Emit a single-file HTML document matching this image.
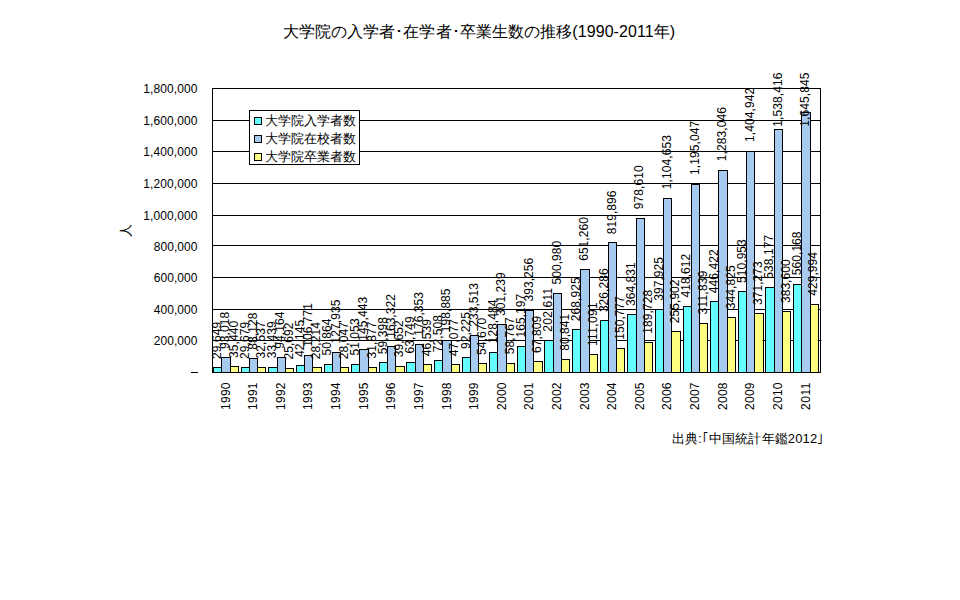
<!DOCTYPE html>
<html><head><meta charset="utf-8">
<style>
html,body{margin:0;padding:0;background:#fff;}
body{width:960px;height:600px;overflow:hidden;position:relative;font-family:"Liberation Sans",sans-serif;}
svg{position:absolute;left:0;top:0;}
svg text{font-family:"Liberation Sans",sans-serif;font-size:12px;fill:#000;}
.title{position:absolute;left:0;width:960px;top:22px;text-align:center;font-size:16px;letter-spacing:0.08px;line-height:20px;white-space:nowrap;}
.title span{position:relative;left:-1px;}
.legend{position:absolute;left:249px;top:110px;width:109px;height:53px;border:1px solid #000;background:#fff;font-size:13px;}
.legend div{position:absolute;left:4px;height:18px;line-height:18px;white-space:nowrap;}
.legend i{display:inline-block;width:6px;height:6px;border:1px solid #000;margin-right:3px;vertical-align:middle;position:relative;top:-1px;}
.ytitle{position:absolute;left:118px;top:222px;width:16px;height:16px;font-size:13px;line-height:16px;text-align:center;transform:rotate(-90deg);}
.src{position:absolute;right:135.5px;top:431px;font-size:13px;letter-spacing:0.15px;line-height:16px;white-space:nowrap;}
</style></head><body>
<svg width="960" height="600" viewBox="0 0 960 600">
<rect x="212" y="88" width="609" height="1" fill="#000"/>
<rect x="212" y="120" width="609" height="1" fill="#000"/>
<rect x="212" y="151" width="609" height="1" fill="#000"/>
<rect x="212" y="183" width="609" height="1" fill="#000"/>
<rect x="212" y="215" width="609" height="1" fill="#000"/>
<rect x="212" y="245" width="609" height="1" fill="#000"/>
<rect x="212" y="277" width="609" height="1" fill="#000"/>
<rect x="212" y="309" width="609" height="1" fill="#000"/>
<rect x="212" y="340" width="609" height="1" fill="#000"/>
<rect x="212" y="372" width="609" height="1" fill="#000"/>
<rect x="212" y="88" width="1" height="285" fill="#000"/>
<rect x="820" y="88" width="1" height="285" fill="#000"/>
<rect x="213" y="367" width="9" height="6" fill="#000"/>
<rect x="214" y="368" width="7" height="4" fill="#66FFFF"/>
<rect x="221" y="357" width="10" height="16" fill="#000"/>
<rect x="222" y="358" width="8" height="14" fill="#A6CAF0"/>
<rect x="230" y="366" width="9" height="7" fill="#000"/>
<rect x="231" y="367" width="7" height="5" fill="#FFFF80"/>
<rect x="241" y="367" width="9" height="6" fill="#000"/>
<rect x="242" y="368" width="7" height="4" fill="#66FFFF"/>
<rect x="249" y="358" width="9" height="15" fill="#000"/>
<rect x="250" y="359" width="7" height="13" fill="#A6CAF0"/>
<rect x="257" y="367" width="9" height="6" fill="#000"/>
<rect x="258" y="368" width="7" height="4" fill="#FFFF80"/>
<rect x="268" y="367" width="10" height="6" fill="#000"/>
<rect x="269" y="368" width="8" height="4" fill="#66FFFF"/>
<rect x="277" y="357" width="9" height="16" fill="#000"/>
<rect x="278" y="358" width="7" height="14" fill="#A6CAF0"/>
<rect x="285" y="368" width="9" height="5" fill="#000"/>
<rect x="286" y="369" width="7" height="3" fill="#FFFF80"/>
<rect x="296" y="365" width="9" height="8" fill="#000"/>
<rect x="297" y="366" width="7" height="6" fill="#66FFFF"/>
<rect x="304" y="355" width="9" height="18" fill="#000"/>
<rect x="305" y="356" width="7" height="16" fill="#A6CAF0"/>
<rect x="312" y="367" width="10" height="6" fill="#000"/>
<rect x="313" y="368" width="8" height="4" fill="#FFFF80"/>
<rect x="324" y="364" width="9" height="9" fill="#000"/>
<rect x="325" y="365" width="7" height="7" fill="#66FFFF"/>
<rect x="332" y="352" width="9" height="21" fill="#000"/>
<rect x="333" y="353" width="7" height="19" fill="#A6CAF0"/>
<rect x="340" y="367" width="9" height="6" fill="#000"/>
<rect x="341" y="368" width="7" height="4" fill="#FFFF80"/>
<rect x="351" y="364" width="9" height="9" fill="#000"/>
<rect x="352" y="365" width="7" height="7" fill="#66FFFF"/>
<rect x="359" y="349" width="10" height="24" fill="#000"/>
<rect x="360" y="350" width="8" height="22" fill="#A6CAF0"/>
<rect x="368" y="367" width="9" height="6" fill="#000"/>
<rect x="369" y="368" width="7" height="4" fill="#FFFF80"/>
<rect x="379" y="362" width="9" height="11" fill="#000"/>
<rect x="380" y="363" width="7" height="9" fill="#66FFFF"/>
<rect x="387" y="346" width="9" height="27" fill="#000"/>
<rect x="388" y="347" width="7" height="25" fill="#A6CAF0"/>
<rect x="395" y="366" width="10" height="7" fill="#000"/>
<rect x="396" y="367" width="8" height="5" fill="#FFFF80"/>
<rect x="406" y="362" width="10" height="11" fill="#000"/>
<rect x="407" y="363" width="8" height="9" fill="#66FFFF"/>
<rect x="415" y="344" width="9" height="29" fill="#000"/>
<rect x="416" y="345" width="7" height="27" fill="#A6CAF0"/>
<rect x="423" y="364" width="9" height="9" fill="#000"/>
<rect x="424" y="365" width="7" height="7" fill="#FFFF80"/>
<rect x="434" y="360" width="9" height="13" fill="#000"/>
<rect x="435" y="361" width="7" height="11" fill="#66FFFF"/>
<rect x="442" y="340" width="10" height="33" fill="#000"/>
<rect x="443" y="341" width="8" height="31" fill="#A6CAF0"/>
<rect x="451" y="364" width="9" height="9" fill="#000"/>
<rect x="452" y="365" width="7" height="7" fill="#FFFF80"/>
<rect x="462" y="357" width="9" height="16" fill="#000"/>
<rect x="463" y="358" width="7" height="14" fill="#66FFFF"/>
<rect x="470" y="335" width="9" height="38" fill="#000"/>
<rect x="471" y="336" width="7" height="36" fill="#A6CAF0"/>
<rect x="478" y="363" width="9" height="10" fill="#000"/>
<rect x="479" y="364" width="7" height="8" fill="#FFFF80"/>
<rect x="489" y="352" width="9" height="21" fill="#000"/>
<rect x="490" y="353" width="7" height="19" fill="#66FFFF"/>
<rect x="497" y="324" width="10" height="49" fill="#000"/>
<rect x="498" y="325" width="8" height="47" fill="#A6CAF0"/>
<rect x="506" y="363" width="9" height="10" fill="#000"/>
<rect x="507" y="364" width="7" height="8" fill="#FFFF80"/>
<rect x="517" y="346" width="9" height="27" fill="#000"/>
<rect x="518" y="347" width="7" height="25" fill="#66FFFF"/>
<rect x="525" y="310" width="9" height="63" fill="#000"/>
<rect x="526" y="311" width="7" height="61" fill="#A6CAF0"/>
<rect x="533" y="361" width="10" height="12" fill="#000"/>
<rect x="534" y="362" width="8" height="10" fill="#FFFF80"/>
<rect x="544" y="340" width="10" height="33" fill="#000"/>
<rect x="545" y="341" width="8" height="31" fill="#66FFFF"/>
<rect x="553" y="293" width="9" height="80" fill="#000"/>
<rect x="554" y="294" width="7" height="78" fill="#A6CAF0"/>
<rect x="561" y="359" width="9" height="14" fill="#000"/>
<rect x="562" y="360" width="7" height="12" fill="#FFFF80"/>
<rect x="572" y="329" width="9" height="44" fill="#000"/>
<rect x="573" y="330" width="7" height="42" fill="#66FFFF"/>
<rect x="580" y="269" width="10" height="104" fill="#000"/>
<rect x="581" y="270" width="8" height="102" fill="#A6CAF0"/>
<rect x="589" y="354" width="9" height="19" fill="#000"/>
<rect x="590" y="355" width="7" height="17" fill="#FFFF80"/>
<rect x="600" y="320" width="9" height="53" fill="#000"/>
<rect x="601" y="321" width="7" height="51" fill="#66FFFF"/>
<rect x="608" y="242" width="9" height="131" fill="#000"/>
<rect x="609" y="243" width="7" height="129" fill="#A6CAF0"/>
<rect x="616" y="348" width="9" height="25" fill="#000"/>
<rect x="617" y="349" width="7" height="23" fill="#FFFF80"/>
<rect x="627" y="314" width="10" height="59" fill="#000"/>
<rect x="628" y="315" width="8" height="57" fill="#66FFFF"/>
<rect x="636" y="218" width="9" height="155" fill="#000"/>
<rect x="637" y="219" width="7" height="153" fill="#A6CAF0"/>
<rect x="644" y="342" width="9" height="31" fill="#000"/>
<rect x="645" y="343" width="7" height="29" fill="#FFFF80"/>
<rect x="655" y="309" width="9" height="64" fill="#000"/>
<rect x="656" y="310" width="7" height="62" fill="#66FFFF"/>
<rect x="663" y="198" width="9" height="175" fill="#000"/>
<rect x="664" y="199" width="7" height="173" fill="#A6CAF0"/>
<rect x="671" y="331" width="10" height="42" fill="#000"/>
<rect x="672" y="332" width="8" height="40" fill="#FFFF80"/>
<rect x="683" y="306" width="9" height="67" fill="#000"/>
<rect x="684" y="307" width="7" height="65" fill="#66FFFF"/>
<rect x="691" y="184" width="9" height="189" fill="#000"/>
<rect x="692" y="185" width="7" height="187" fill="#A6CAF0"/>
<rect x="699" y="323" width="9" height="50" fill="#000"/>
<rect x="700" y="324" width="7" height="48" fill="#FFFF80"/>
<rect x="710" y="301" width="9" height="72" fill="#000"/>
<rect x="711" y="302" width="7" height="70" fill="#66FFFF"/>
<rect x="718" y="170" width="10" height="203" fill="#000"/>
<rect x="719" y="171" width="8" height="201" fill="#A6CAF0"/>
<rect x="727" y="317" width="9" height="56" fill="#000"/>
<rect x="728" y="318" width="7" height="54" fill="#FFFF80"/>
<rect x="738" y="291" width="9" height="82" fill="#000"/>
<rect x="739" y="292" width="7" height="80" fill="#66FFFF"/>
<rect x="746" y="151" width="9" height="222" fill="#000"/>
<rect x="747" y="152" width="7" height="220" fill="#A6CAF0"/>
<rect x="754" y="313" width="10" height="60" fill="#000"/>
<rect x="755" y="314" width="8" height="58" fill="#FFFF80"/>
<rect x="765" y="287" width="10" height="86" fill="#000"/>
<rect x="766" y="288" width="8" height="84" fill="#66FFFF"/>
<rect x="774" y="129" width="9" height="244" fill="#000"/>
<rect x="775" y="130" width="7" height="242" fill="#A6CAF0"/>
<rect x="782" y="311" width="9" height="62" fill="#000"/>
<rect x="783" y="312" width="7" height="60" fill="#FFFF80"/>
<rect x="793" y="284" width="9" height="89" fill="#000"/>
<rect x="794" y="285" width="7" height="87" fill="#66FFFF"/>
<rect x="801" y="112" width="10" height="261" fill="#000"/>
<rect x="802" y="113" width="8" height="259" fill="#A6CAF0"/>
<rect x="810" y="304" width="9" height="69" fill="#000"/>
<rect x="811" y="305" width="7" height="67" fill="#FFFF80"/>
<text transform="translate(220.98,358.92) rotate(-90)" textLength="37.11" lengthAdjust="spacing">29,649</text>
<text transform="translate(229.24,348.92) rotate(-90)" textLength="37.11" lengthAdjust="spacing">93,018</text>
<text transform="translate(237.50,358.01) rotate(-90)" textLength="37.11" lengthAdjust="spacing">35,440</text>
<text transform="translate(248.60,358.92) rotate(-90)" textLength="37.11" lengthAdjust="spacing">29,679</text>
<text transform="translate(256.86,349.70) rotate(-90)" textLength="37.11" lengthAdjust="spacing">88,128</text>
<text transform="translate(265.12,358.47) rotate(-90)" textLength="37.11" lengthAdjust="spacing">32,537</text>
<text transform="translate(276.21,358.32) rotate(-90)" textLength="37.11" lengthAdjust="spacing">33,439</text>
<text transform="translate(284.47,348.74) rotate(-90)" textLength="37.11" lengthAdjust="spacing">94,164</text>
<text transform="translate(292.73,359.55) rotate(-90)" textLength="37.11" lengthAdjust="spacing">25,692</text>
<text transform="translate(303.83,356.95) rotate(-90)" textLength="37.11" lengthAdjust="spacing">42,145</text>
<text transform="translate(312.09,346.75) rotate(-90)" textLength="43.78" lengthAdjust="spacing">106,771</text>
<text transform="translate(320.35,359.15) rotate(-90)" textLength="37.11" lengthAdjust="spacing">28,214</text>
<text transform="translate(331.45,355.57) rotate(-90)" textLength="37.11" lengthAdjust="spacing">50,864</text>
<text transform="translate(339.71,343.41) rotate(-90)" textLength="43.78" lengthAdjust="spacing">127,935</text>
<text transform="translate(347.97,359.17) rotate(-90)" textLength="37.11" lengthAdjust="spacing">28,047</text>
<text transform="translate(359.07,355.54) rotate(-90)" textLength="37.11" lengthAdjust="spacing">51,053</text>
<text transform="translate(367.33,340.65) rotate(-90)" textLength="43.78" lengthAdjust="spacing">145,443</text>
<text transform="translate(375.59,358.57) rotate(-90)" textLength="37.11" lengthAdjust="spacing">31,877</text>
<text transform="translate(386.68,354.23) rotate(-90)" textLength="37.11" lengthAdjust="spacing">59,398</text>
<text transform="translate(394.94,337.83) rotate(-90)" textLength="43.78" lengthAdjust="spacing">163,322</text>
<text transform="translate(403.20,357.34) rotate(-90)" textLength="37.11" lengthAdjust="spacing">39,652</text>
<text transform="translate(414.30,353.54) rotate(-90)" textLength="37.11" lengthAdjust="spacing">63,749</text>
<text transform="translate(422.56,335.78) rotate(-90)" textLength="43.78" lengthAdjust="spacing">176,353</text>
<text transform="translate(430.82,356.26) rotate(-90)" textLength="37.11" lengthAdjust="spacing">46,539</text>
<text transform="translate(441.92,352.16) rotate(-90)" textLength="37.11" lengthAdjust="spacing">72,508</text>
<text transform="translate(450.18,332.22) rotate(-90)" textLength="43.78" lengthAdjust="spacing">198,885</text>
<text transform="translate(458.44,356.17) rotate(-90)" textLength="37.11" lengthAdjust="spacing">47,077</text>
<text transform="translate(469.53,349.05) rotate(-90)" textLength="37.11" lengthAdjust="spacing">92,225</text>
<text transform="translate(477.79,326.76) rotate(-90)" textLength="43.78" lengthAdjust="spacing">233,513</text>
<text transform="translate(486.05,354.97) rotate(-90)" textLength="37.11" lengthAdjust="spacing">54,670</text>
<text transform="translate(497.15,343.33) rotate(-90)" textLength="43.78" lengthAdjust="spacing">128,484</text>
<text transform="translate(505.41,316.07) rotate(-90)" textLength="43.78" lengthAdjust="spacing">301,239</text>
<text transform="translate(513.67,354.33) rotate(-90)" textLength="37.11" lengthAdjust="spacing">58,767</text>
<text transform="translate(524.77,337.54) rotate(-90)" textLength="43.78" lengthAdjust="spacing">165,197</text>
<text transform="translate(533.03,301.55) rotate(-90)" textLength="43.78" lengthAdjust="spacing">393,256</text>
<text transform="translate(541.29,352.90) rotate(-90)" textLength="37.11" lengthAdjust="spacing">67,809</text>
<text transform="translate(552.38,331.63) rotate(-90)" textLength="43.78" lengthAdjust="spacing">202,611</text>
<text transform="translate(560.64,284.56) rotate(-90)" textLength="43.78" lengthAdjust="spacing">500,980</text>
<text transform="translate(568.90,350.85) rotate(-90)" textLength="37.11" lengthAdjust="spacing">80,841</text>
<text transform="translate(580.00,321.17) rotate(-90)" textLength="43.78" lengthAdjust="spacing">268,925</text>
<text transform="translate(588.26,260.85) rotate(-90)" textLength="43.78" lengthAdjust="spacing">651,260</text>
<text transform="translate(596.52,346.07) rotate(-90)" textLength="43.78" lengthAdjust="spacing">111,091</text>
<text transform="translate(607.62,312.12) rotate(-90)" textLength="43.78" lengthAdjust="spacing">326,286</text>
<text transform="translate(615.88,234.24) rotate(-90)" textLength="43.78" lengthAdjust="spacing">819,896</text>
<text transform="translate(624.14,339.81) rotate(-90)" textLength="43.78" lengthAdjust="spacing">150,777</text>
<text transform="translate(635.23,306.04) rotate(-90)" textLength="43.78" lengthAdjust="spacing">364,831</text>
<text transform="translate(643.49,209.20) rotate(-90)" textLength="43.78" lengthAdjust="spacing">978,610</text>
<text transform="translate(651.75,333.67) rotate(-90)" textLength="43.78" lengthAdjust="spacing">189,728</text>
<text transform="translate(662.85,300.82) rotate(-90)" textLength="43.78" lengthAdjust="spacing">397,925</text>
<text transform="translate(671.11,189.31) rotate(-90)" textLength="54.20" lengthAdjust="spacing">1,104,653</text>
<text transform="translate(679.37,323.22) rotate(-90)" textLength="43.78" lengthAdjust="spacing">255,902</text>
<text transform="translate(690.47,297.55) rotate(-90)" textLength="43.78" lengthAdjust="spacing">418,612</text>
<text transform="translate(698.73,175.05) rotate(-90)" textLength="54.20" lengthAdjust="spacing">1,195,047</text>
<text transform="translate(706.99,314.40) rotate(-90)" textLength="43.78" lengthAdjust="spacing">311,839</text>
<text transform="translate(718.09,293.16) rotate(-90)" textLength="43.78" lengthAdjust="spacing">446,422</text>
<text transform="translate(726.35,161.16) rotate(-90)" textLength="54.20" lengthAdjust="spacing">1,283,046</text>
<text transform="translate(734.61,309.19) rotate(-90)" textLength="43.78" lengthAdjust="spacing">344,825</text>
<text transform="translate(745.70,282.98) rotate(-90)" textLength="43.78" lengthAdjust="spacing">510,953</text>
<text transform="translate(753.96,141.93) rotate(-90)" textLength="54.20" lengthAdjust="spacing">1,404,942</text>
<text transform="translate(762.22,305.02) rotate(-90)" textLength="43.78" lengthAdjust="spacing">371,273</text>
<text transform="translate(773.32,278.69) rotate(-90)" textLength="43.78" lengthAdjust="spacing">538,177</text>
<text transform="translate(781.58,126.70) rotate(-90)" textLength="54.20" lengthAdjust="spacing">1,538,416</text>
<text transform="translate(789.84,303.08) rotate(-90)" textLength="43.78" lengthAdjust="spacing">383,600</text>
<text transform="translate(800.94,275.22) rotate(-90)" textLength="43.78" lengthAdjust="spacing">560,168</text>
<text transform="translate(809.20,126.70) rotate(-90)" textLength="54.20" lengthAdjust="spacing">1,645,845</text>
<text transform="translate(817.46,295.76) rotate(-90)" textLength="43.78" lengthAdjust="spacing">429,994</text>
<text x="197.5" y="92.5" text-anchor="end" textLength="54.20" lengthAdjust="spacing">1,800,000</text>
<text x="197.5" y="124.5" text-anchor="end" textLength="54.20" lengthAdjust="spacing">1,600,000</text>
<text x="197.5" y="155.5" text-anchor="end" textLength="54.20" lengthAdjust="spacing">1,400,000</text>
<text x="197.5" y="187.5" text-anchor="end" textLength="54.20" lengthAdjust="spacing">1,200,000</text>
<text x="197.5" y="219.5" text-anchor="end" textLength="54.20" lengthAdjust="spacing">1,000,000</text>
<text x="197.5" y="250.5" text-anchor="end" textLength="43.78" lengthAdjust="spacing">800,000</text>
<text x="197.5" y="281.5" text-anchor="end" textLength="43.78" lengthAdjust="spacing">600,000</text>
<text x="197.5" y="313.5" text-anchor="end" textLength="43.78" lengthAdjust="spacing">400,000</text>
<text x="197.5" y="344.5" text-anchor="end" textLength="43.78" lengthAdjust="spacing">200,000</text>
<rect x="191" y="372" width="7" height="1" fill="#000"/>
<text transform="translate(229.61,382.5) rotate(-90)" text-anchor="end" textLength="27.4" lengthAdjust="spacing">1990</text>
<text transform="translate(257.23,382.5) rotate(-90)" text-anchor="end" textLength="27.4" lengthAdjust="spacing">1991</text>
<text transform="translate(284.84,382.5) rotate(-90)" text-anchor="end" textLength="27.4" lengthAdjust="spacing">1992</text>
<text transform="translate(312.46,382.5) rotate(-90)" text-anchor="end" textLength="27.4" lengthAdjust="spacing">1993</text>
<text transform="translate(340.08,382.5) rotate(-90)" text-anchor="end" textLength="27.4" lengthAdjust="spacing">1994</text>
<text transform="translate(367.69,382.5) rotate(-90)" text-anchor="end" textLength="27.4" lengthAdjust="spacing">1995</text>
<text transform="translate(395.31,382.5) rotate(-90)" text-anchor="end" textLength="27.4" lengthAdjust="spacing">1996</text>
<text transform="translate(422.93,382.5) rotate(-90)" text-anchor="end" textLength="27.4" lengthAdjust="spacing">1997</text>
<text transform="translate(450.54,382.5) rotate(-90)" text-anchor="end" textLength="27.4" lengthAdjust="spacing">1998</text>
<text transform="translate(478.16,382.5) rotate(-90)" text-anchor="end" textLength="27.4" lengthAdjust="spacing">1999</text>
<text transform="translate(505.78,382.5) rotate(-90)" text-anchor="end" textLength="27.4" lengthAdjust="spacing">2000</text>
<text transform="translate(533.40,382.5) rotate(-90)" text-anchor="end" textLength="27.4" lengthAdjust="spacing">2001</text>
<text transform="translate(561.01,382.5) rotate(-90)" text-anchor="end" textLength="27.4" lengthAdjust="spacing">2002</text>
<text transform="translate(588.63,382.5) rotate(-90)" text-anchor="end" textLength="27.4" lengthAdjust="spacing">2003</text>
<text transform="translate(616.25,382.5) rotate(-90)" text-anchor="end" textLength="27.4" lengthAdjust="spacing">2004</text>
<text transform="translate(643.86,382.5) rotate(-90)" text-anchor="end" textLength="27.4" lengthAdjust="spacing">2005</text>
<text transform="translate(671.48,382.5) rotate(-90)" text-anchor="end" textLength="27.4" lengthAdjust="spacing">2006</text>
<text transform="translate(699.10,382.5) rotate(-90)" text-anchor="end" textLength="27.4" lengthAdjust="spacing">2007</text>
<text transform="translate(726.71,382.5) rotate(-90)" text-anchor="end" textLength="27.4" lengthAdjust="spacing">2008</text>
<text transform="translate(754.33,382.5) rotate(-90)" text-anchor="end" textLength="27.4" lengthAdjust="spacing">2009</text>
<text transform="translate(781.95,382.5) rotate(-90)" text-anchor="end" textLength="27.4" lengthAdjust="spacing">2010</text>
<text transform="translate(809.57,382.5) rotate(-90)" text-anchor="end" textLength="27.4" lengthAdjust="spacing">2011</text>
</svg>
<div class="title"><span>大学院の入学者･在学者･卒業生数の推移(1990-2011年)</span></div>
<div class="legend">
<div style="top:1px"><i style="background:#66FFFF"></i>大学院入学者数</div>
<div style="top:19px"><i style="background:#A6CAF0"></i>大学院在校者数</div>
<div style="top:37px"><i style="background:#FFFF80"></i>大学院卒業者数</div>
</div>
<div class="ytitle">人</div>
<div class="src">出典:｢中国統計年鑑2012｣</div>
</body></html>
